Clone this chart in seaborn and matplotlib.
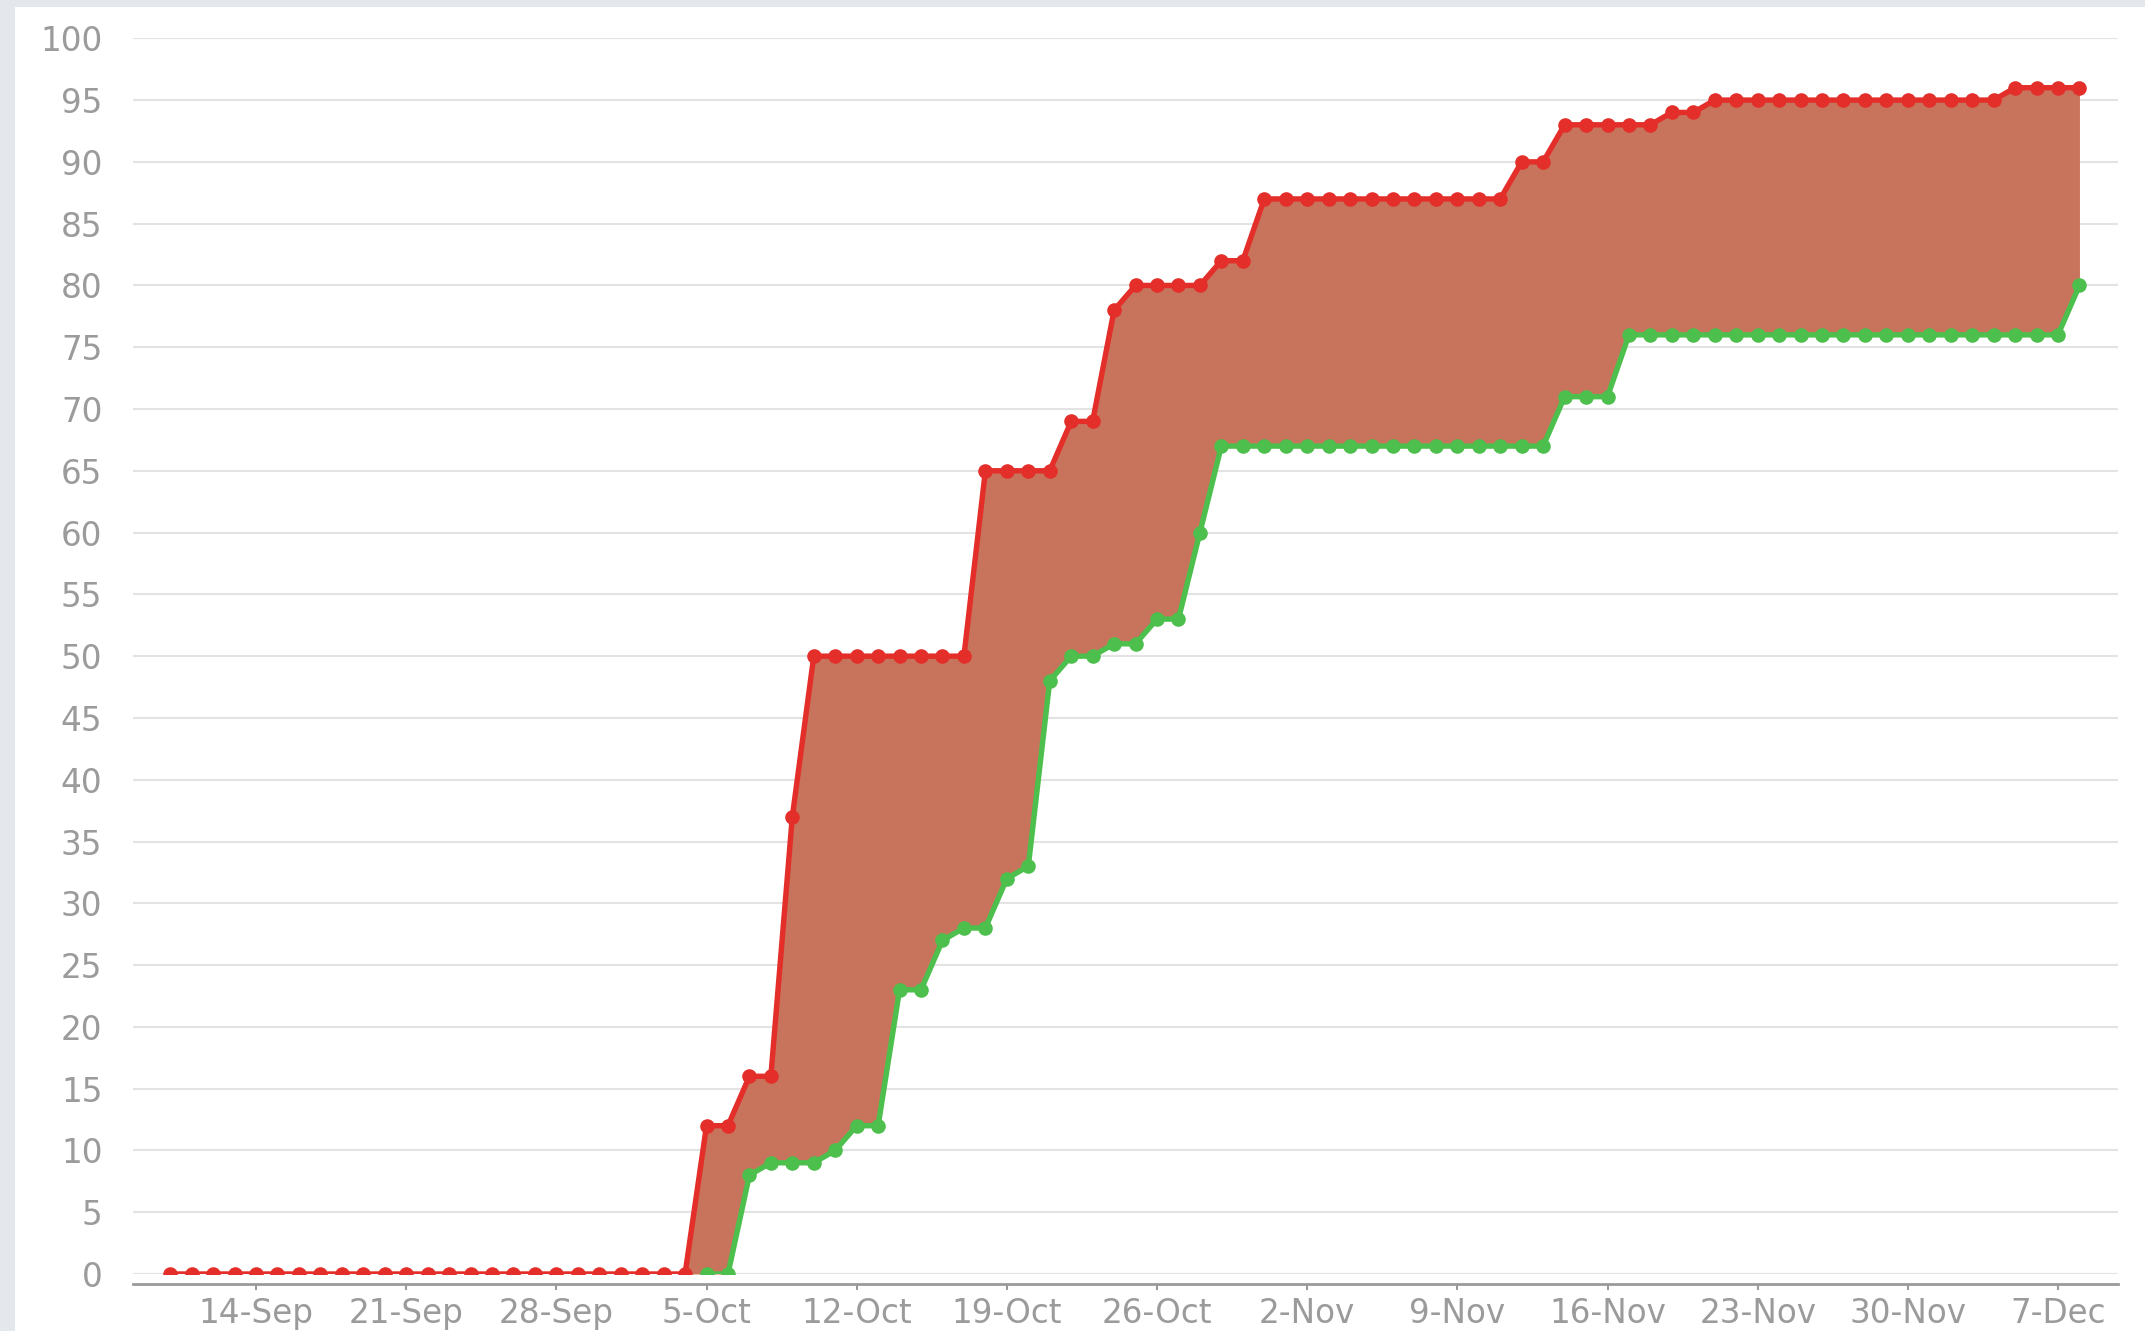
import numpy as np
import pandas as pd
import matplotlib
matplotlib.use("Agg")
import matplotlib.pyplot as plt
import matplotlib.dates as mdates
from matplotlib.patches import Rectangle
import seaborn as sns

# ---------------- data ----------------
start_date = "2015-09-10"
end_date = "2015-12-08"

# upper (red) series, one value per day
scope = [0, 0, 0, 0, 0, 0, 0, 0, 0, 0,
         0, 0, 0, 0, 0, 0, 0, 0, 0, 0,
         0, 0, 0, 0, 0, 12, 12, 16, 16, 37,
         50, 50, 50, 50, 50, 50, 50, 50, 65, 65,
         65, 65, 69, 69, 78, 80, 80, 80, 80, 82,
         82, 87, 87, 87, 87, 87, 87, 87, 87, 87,
         87, 87, 87, 90, 90, 93, 93, 93, 93, 93,
         94, 94, 95, 95, 95, 95, 95, 95, 95, 95,
         95, 95, 95, 95, 95, 95, 96, 96, 96, 96]

# lower (green) series, one value per day (None = no point)
done = [None, None, None, None, None, None, None, None, None, None,
        None, None, None, None, None, None, None, None, None, None,
        None, None, None, None, None, 0, 0, 8, 9, 9,
        9, 10, 12, 12, 23, 23, 27, 28, 28, 32,
        33, 48, 50, 50, 51, 51, 53, 53, 60, 67,
        67, 67, 67, 67, 67, 67, 67, 67, 67, 67,
        67, 67, 67, 67, 67, 71, 71, 71, 76, 76,
        76, 76, 76, 76, 76, 76, 76, 76, 76, 76,
        76, 76, 76, 76, 76, 76, 76, 76, 76, 80]

y_ticks = [0, 5, 10, 15, 20, 25, 30, 35, 40, 45, 50,
           55, 60, 65, 70, 75, 80, 85, 90, 95, 100]
x_tick_dates = ["2015-09-14", "2015-09-21", "2015-09-28", "2015-10-05",
                "2015-10-12", "2015-10-19", "2015-10-26", "2015-11-02",
                "2015-11-09", "2015-11-16", "2015-11-23", "2015-11-30",
                "2015-12-07"]
x_tick_labels = ["14-Sep", "21-Sep", "28-Sep", "5-Oct", "12-Oct", "19-Oct",
                 "26-Oct", "2-Nov", "9-Nov", "16-Nov", "23-Nov", "30-Nov",
                 "7-Dec"]

# ---------------- figure ----------------
sns.set_theme(style="white")
plt.rcParams["font.family"] = ["DejaVu Sans"]

W, H = 2145, 1331
fig = plt.figure(figsize=(W / 100, H / 100), dpi=100, facecolor="#e4e8ed")
fig.patches.append(Rectangle((15 / W, 0), 1, (H - 7) / H,
                             transform=fig.transFigure, facecolor="white",
                             edgecolor="none", zorder=-10))

ax_left, ax_right, ax_top, ax_bot = 133, 2118, 38.3, 1274
ax = fig.add_axes([ax_left / W, (H - ax_bot) / H,
                   (ax_right - ax_left) / W, (ax_bot - ax_top) / H])
ax.set_zorder(1)
ax.set_facecolor("white")

df = pd.DataFrame({
    "date": pd.date_range(start_date, end_date, freq="D"),
    "scope": pd.Series(scope, dtype=float),
    "done": pd.Series(done, dtype=float),
})

RED = "#e32e29"
GREEN = "#4cbf4c"
FILL = "#c8745d"

ax.fill_between(df["date"], df["scope"], df["done"].fillna(0),
                color=FILL, lw=0, zorder=1)
sns.lineplot(data=df, x="date", y="done", color=GREEN, lw=3.9,
             marker="o", markersize=10.5, markeredgewidth=0, ax=ax, zorder=3)
sns.lineplot(data=df, x="date", y="scope", color=RED, lw=3.9,
             marker="o", markersize=10.5, markeredgewidth=0, ax=ax, zorder=4)

# axes limits
t0 = mdates.date2num(pd.Timestamp(x_tick_dates[0]))
t1 = mdates.date2num(pd.Timestamp(x_tick_dates[-1]))
px_per_day = (2058 - 256) / (t1 - t0)
ax.set_xlim(t0 - (256 - ax_left) / px_per_day, t1 + (ax_right - 2058) / px_per_day)
ax.set_ylim(0, 100)

ax.set_xticks([mdates.date2num(pd.Timestamp(d)) for d in x_tick_dates])
ax.set_xticklabels(x_tick_labels)
ax.set_yticks(y_ticks)
ax.set_yticklabels([str(v) for v in y_ticks])
ax.set_xlabel("")
ax.set_ylabel("")

ax.yaxis.grid(True, color="#e3e3e3", lw=1.5)
ax.xaxis.grid(False)
ax.set_axisbelow(True)

for s in ["left", "right", "top"]:
    ax.spines[s].set_visible(False)
ax.spines["bottom"].set_position(("outward", 7.2))
ax.spines["bottom"].set_color("#9a9a9a")
ax.spines["bottom"].set_linewidth(2.0)

ax.tick_params(axis="x", length=4.5, width=1.5, color="#9a9a9a", pad=5,
               labelsize=23.5, labelcolor="#9b9b9b", bottom=True)
ax.tick_params(axis="y", length=0, pad=22, labelsize=23.5, labelcolor="#9b9b9b")

fig.savefig("out.png", dpi=100, facecolor=fig.get_facecolor())
